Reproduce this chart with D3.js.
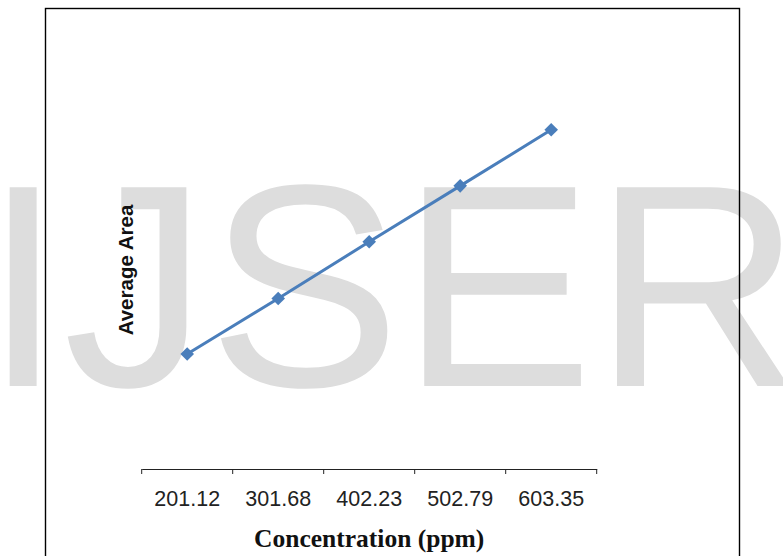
<!DOCTYPE html>
<html>
<head>
<meta charset="utf-8">
<script src="https://cdn.jsdelivr.net/npm/d3@7"></script>
<style>
  html, body { margin: 0; padding: 0; background: #fff; }
  svg { display: block; }
</style>
</head>
<body>
<div id="chart"></div>
<script>
// concentration categories (ppm) and their average peak areas
const concentrations = ['201.12', '301.68', '402.23', '502.79', '603.35'];
const averageArea = [1012000, 1500000, 1998000, 2490000, 2983000];
const watermarkText = 'IJSER';

const width = 783;
const height = 556;
const plot = { left: 141.7, right: 596.7, top: 71, bottom: 469 };
const blue = '#4a7ebb';

const svg = d3.select('#chart')
  .append('svg')
  .attr('width', width)
  .attr('height', height)
  .style('font-family', '"Liberation Sans", Arial, sans-serif');

// watermark behind everything
svg.append('text')
  .attr('x', -17)
  .attr('y', 386)
  .attr('fill', '#dddddd')
  .style('font-size', '289px')
  .text(watermarkText);

const x = d3.scaleBand()
  .domain(concentrations)
  .range([plot.left, plot.right])
  .padding(0);

const y = d3.scaleLinear()
  .domain([0, 3500000])
  .range([plot.bottom, plot.top]);

// category axis: labels centred, ticks on the category boundaries
svg.append('g')
  .attr('transform', `translate(0,${plot.bottom})`)
  .call(d3.axisBottom(x).tickSize(0).tickPadding(22))
  .call(g => g.select('.domain').attr('stroke', '#222').attr('stroke-width', 1))
  .call(g => g.selectAll('.tick text')
    .attr('fill', '#222')
    .style('font-size', '21.5px')
    .style('font-family', '"Liberation Sans", Arial, sans-serif'));

const boundaries = concentrations.map(d => x(d)).concat([x.range()[1]]);
svg.append('g')
  .selectAll('line')
  .data(boundaries)
  .join('line')
  .attr('x1', d => d)
  .attr('x2', d => d)
  .attr('y1', plot.bottom)
  .attr('y2', plot.bottom + 5)
  .attr('stroke', '#222')
  .attr('stroke-width', 1);

const points = concentrations.map((c, i) => ({ c, v: averageArea[i] }));

const line = d3.line()
  .x(d => x(d.c) + x.bandwidth() / 2)
  .y(d => y(d.v));

svg.append('path')
  .datum(points)
  .attr('fill', 'none')
  .attr('stroke', blue)
  .attr('stroke-width', 3)
  .attr('d', line);

svg.append('g')
  .selectAll('path')
  .data(points)
  .join('path')
  .attr('d', d3.symbol(d3.symbolSquare, 92)())
  .attr('transform', d => `translate(${x(d.c) + x.bandwidth() / 2},${y(d.v)}) rotate(45)`)
  .attr('fill', blue);

// axis titles
svg.append('text')
  .attr('transform', 'translate(133,270) rotate(-90)')
  .attr('text-anchor', 'middle')
  .attr('fill', '#111')
  .style('font-size', '20.5px')
  .style('font-weight', 'bold')
  .text('Average Area');

svg.append('text')
  .attr('x', (plot.left + plot.right) / 2)
  .attr('y', 547)
  .attr('text-anchor', 'middle')
  .attr('fill', '#111')
  .style('font-family', '"Liberation Serif", "Times New Roman", serif')
  .style('font-size', '25.5px')
  .style('font-weight', 'bold')
  .text('Concentration (ppm)');

// outer frame (bottom edge is cut off)
svg.append('rect')
  .attr('x', 45.5)
  .attr('y', 8.5)
  .attr('width', 694)
  .attr('height', 560)
  .attr('fill', 'none')
  .attr('stroke', '#000')
  .attr('stroke-width', 1.4);
</script>
</body>
</html>
